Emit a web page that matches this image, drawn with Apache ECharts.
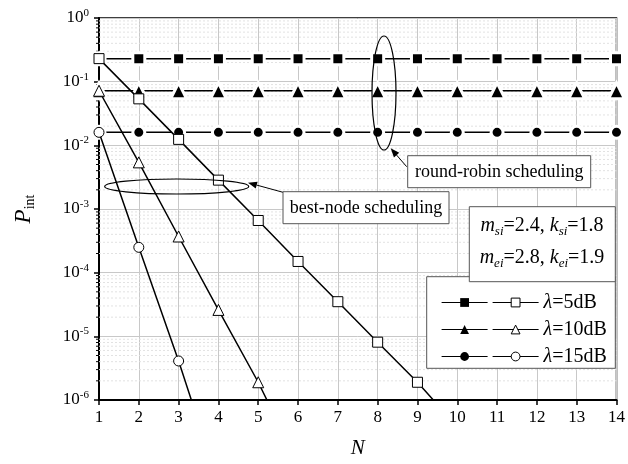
<!DOCTYPE html>
<html><head><meta charset="utf-8">
<script src="https://cdn.jsdelivr.net/npm/echarts@6/dist/echarts.min.js"></script>
<style>html,body{margin:0;padding:0;background:#fff}#c{width:628px;height:464px}</style>
</head><body><div id="c"></div>
<script>
// ---- data ----
const rrN = [1,2,3,4,5,6,7,8,9,10,11,12,13,14];
const rr5  = [0.23,0.23,0.23,0.23,0.23,0.23,0.23,0.23,0.23,0.23,0.23,0.23,0.23,0.23];
const rr10 = [0.072,0.072,0.072,0.072,0.072,0.072,0.072,0.072,0.072,0.072,0.072,0.072,0.072,0.072];
const rr15 = [0.016,0.016,0.016,0.016,0.016,0.016,0.016,0.016,0.016,0.016,0.016,0.016,0.016,0.016];
const bnN5 = [1,2,3,4,5,6,7,8,9,10];
const bn5  = [0.23,0.0537,0.0124,0.00284,6.6e-4,1.5e-4,3.5e-5,8.1e-6,1.9e-6,3.8e-7];
const bnN10 = [1,2,3,4,5,6];
const bn10 = [0.072,0.0054,3.7e-4,2.6e-5,1.9e-6,1.0e-7];
const bnN15 = [1,2,3,4];
const bn15 = [0.016,2.5e-4,4.1e-6,5e-8];
const xTicks = [1,14,1];      // min, max, interval
const yRange = [1e-6, 1];
const legendLabels = {BN5:'λ=5dB', BN10:'λ=10dB', BN15:'λ=15dB'};

const FONT = 'Liberation Serif';
function pairs(xs, ys){ return xs.map((x,i)=>[x, ys[i]]); }

function filled(name, sym, size, xs, ys){
  return {name, type:'line', data:pairs(xs,ys), symbol:sym, symbolSize:size, z:3,
    itemStyle:{color:'#000', borderColor:'#fff', borderWidth:3},
    lineStyle:{color:'#000', width:1.5}, clip:true, silent:true, animation:false};
}
function open(name, sym, size, xs, ys){
  return {name, type:'line', data:pairs(xs,ys), symbol:sym, symbolSize:size, z:4,
    itemStyle:{color:'#fff', borderColor:'#000', borderWidth:1},
    lineStyle:{color:'#000', width:1.5}, clip:true, silent:true, animation:false};
}

// minor decoration values (2..9 per decade)
const minorVals = [];
for (let e=-6; e<0; e++) for (let m=2; m<=9; m++) minorVals.push([1, m*Math.pow(10,e)]);

function arrow(x1,y1,x2,y2){
  const ang=Math.atan2(y2-y1,x2-x1), L=9, W=3.5;
  const bx=x2-L*Math.cos(ang), by=y2-L*Math.sin(ang);
  const px=-Math.sin(ang)*W, py=Math.cos(ang)*W;
  return [
    {type:'line', z:50, shape:{x1,y1,x2:bx,y2:by}, style:{stroke:'#000', lineWidth:1}},
    {type:'polygon', z:50, shape:{points:[[x2,y2],[bx+px,by+py],[bx-px,by-py]]}, style:{fill:'#000'}}
  ];
}

const chart = echarts.init(document.getElementById('c'), null, {renderer:'canvas'});
const subRich = {
  i:{fontFamily:FONT, fontStyle:'italic', fontSize:20, lineHeight:28},
  s:{fontFamily:FONT, fontStyle:'italic', fontSize:13, padding:[12,0,0,0], lineHeight:28},
  t:{fontFamily:FONT, fontSize:20, lineHeight:28}
};
chart.setOption({
  animation:false,
  backgroundColor:'#fff',
  grid:{left:99, right:5, top:18, bottom:62, show:true, borderColor:'#000', borderWidth:1.5, backgroundColor:'transparent'},
  xAxis:{type:'value', min:xTicks[0], max:xTicks[1], interval:xTicks[2],
    name:'N', nameLocation:'middle', nameGap:38,
    nameTextStyle:{fontFamily:FONT, fontStyle:'italic', fontSize:21, color:'#000'},
    axisLine:{lineStyle:{color:'#000', width:2}},
    axisTick:{inside:false, length:5, lineStyle:{color:'#000', width:1.5}},
    axisLabel:{fontFamily:FONT, fontSize:17, color:'#000', margin:9},
    splitLine:{show:true, lineStyle:{color:'#c8c8c8', width:1}}},
  yAxis:{type:'log', logBase:10, min:yRange[0], max:yRange[1], splitNumber:6,
    name:'{p|P}{s|int}', nameLocation:'middle', nameGap:62, nameRotate:90,
    nameTextStyle:{rich:{
      p:{fontFamily:FONT, fontStyle:'italic', fontSize:23, color:'#000'},
      s:{fontFamily:FONT, fontSize:14, color:'#000', padding:[12,0,0,0]}}},
    axisLine:{lineStyle:{color:'#000', width:2}},
    axisTick:{inside:false, length:5, lineStyle:{color:'#000', width:1.5}},
    axisLabel:{margin:10, formatter:v=>'{b|10}{s|'+Math.round(Math.log10(v))+'}',
      rich:{b:{fontFamily:FONT, fontSize:17, color:'#000'},
            s:{fontFamily:FONT, fontSize:11, color:'#000', padding:[0,0,10,0]}}},
    splitLine:{show:true, lineStyle:{color:'#c8c8c8', width:1}}},
  legend:[
    {data:['RR5','RR10','RR15'], orient:'vertical', left:436, top:284, itemWidth:46, itemHeight:11, itemGap:0, z:80,
      selectedMode:false, formatter:()=>' ', itemStyle:{borderWidth:0}, lineStyle:{width:1.2},
      textStyle:{fontFamily:FONT, fontSize:20, lineHeight:27}},
    {data:['BN5','BN10','BN15'], orient:'vertical', left:487, top:284, itemWidth:46, itemHeight:11, itemGap:0, z:80,
      selectedMode:false, formatter:n=>'{i|λ}'+legendLabels[n].slice(1), itemStyle:{borderWidth:1}, lineStyle:{width:1.2},
      textStyle:{fontFamily:FONT, fontSize:20, lineHeight:27, color:'#000',
        rich:{i:{fontFamily:FONT, fontStyle:'italic', fontSize:20, lineHeight:27, color:'#000'}}}}
  ],
  series:[
    {type:'custom', z:1, silent:true, clip:false, data:minorVals, animation:false,
      renderItem:(params, api)=>{
        const v=api.value(1); const a=api.coord([xTicks[0], v]); const b=api.coord([xTicks[1], v]);
        return {type:'group', children:[
          {type:'line', shape:{x1:a[0], y1:a[1], x2:b[0], y2:b[1]}, style:{stroke:'#e2e2e2', lineWidth:1, lineDash:[2,2]}},
          {type:'line', shape:{x1:a[0]-3, y1:a[1], x2:a[0], y2:a[1]}, style:{stroke:'#000', lineWidth:1}}
        ]};
      }},
    filled('RR5','rect',12,rrN,rr5),
    filled('RR10','triangle',16,rrN,rr10),
    filled('RR15','circle',12,rrN,rr15),
    open('BN5','rect',10,bnN5,bn5),
    open('BN10','triangle',11,bnN10,bn10),
    open('BN15','circle',10,bnN15,bn15)
  ],
  graphic:[
    {type:'ellipse', z:50, shape:{cx:384, cy:93, rx:12, ry:57}, style:{fill:null, stroke:'#000', lineWidth:1.2}},
    {type:'ellipse', z:50, shape:{cx:176.7, cy:186.5, rx:72, ry:7.5}, style:{fill:null, stroke:'#000', lineWidth:1.2}},
    ...arrow(406.7,166.7,390.7,148.3),
    ...arrow(283,192.3,248,182.7),
    {type:'rect', z:60, shape:{x:407.7, y:155.7, width:183, height:32}, style:{fill:'#fff', stroke:'#555', lineWidth:1}},
    {type:'text', z:61, x:499.2, y:172, style:{text:'round-robin scheduling', font:'18px "Liberation Serif"', fill:'#000', align:'center', verticalAlign:'middle'}},
    {type:'rect', z:60, shape:{x:283, y:191.7, width:166, height:32}, style:{fill:'#fff', stroke:'#555', lineWidth:1}},
    {type:'text', z:61, x:366, y:208, style:{text:'best-node scheduling', font:'18px "Liberation Serif"', fill:'#000', align:'center', verticalAlign:'middle'}},
    {type:'rect', z:5, shape:{x:426.7, y:276.7, width:188.6, height:91.6}, style:{fill:'#fff', stroke:'#555', lineWidth:1}},
    {type:'rect', z:60, shape:{x:469.3, y:206.7, width:146, height:75}, style:{fill:'#fff', stroke:'#555', lineWidth:1}},
    {type:'text', z:61, x:542, y:226, style:{text:'{i|m}{s|si}{t|=2.4, }{i|k}{s|si}{t|=1.8}', rich:subRich, fill:'#000', align:'center', verticalAlign:'middle'}},
    {type:'text', z:61, x:542, y:258, style:{text:'{i|m}{s|ei}{t|=2.8, }{i|k}{s|ei}{t|=1.9}', rich:subRich, fill:'#000', align:'center', verticalAlign:'middle'}}
  ]
});
</script></body></html>
